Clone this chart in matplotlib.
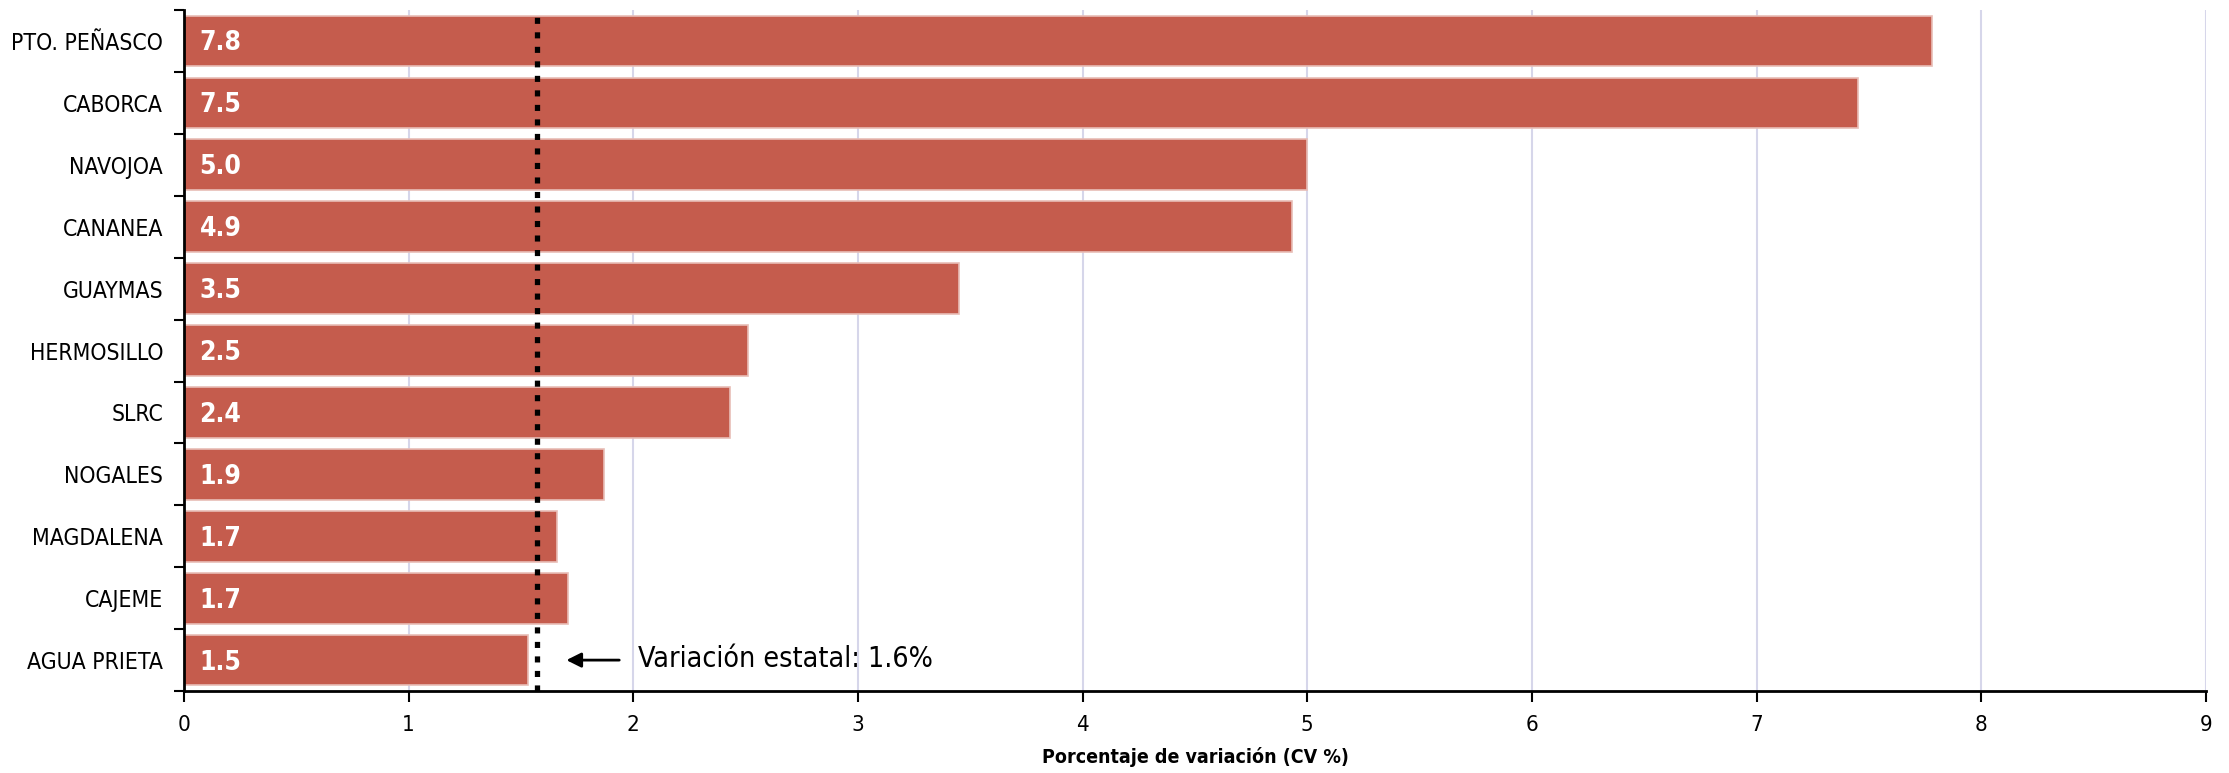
"""Horizontal bar chart: coefficient of variation by municipality (Sonora)."""

import matplotlib

matplotlib.use("Agg")
import matplotlib.pyplot as plt
import numpy as np

plt.rcParams["font.family"] = ["DejaVu Sans"]
plt.rcParams["font.stretch"] = "condensed"

municipios = [
    "PTO. PEÑASCO", "CABORCA", "NAVOJOA", "CANANEA", "GUAYMAS", "HERMOSILLO",
    "SLRC", "NOGALES", "MAGDALENA", "CAJEME", "AGUA PRIETA",
]
cv = [7.78, 7.45, 5.0, 4.93, 3.45, 2.51, 2.43, 1.87, 1.66, 1.71, 1.53]
cv_labels = ["7.8", "7.5", "5.0", "4.9", "3.5", "2.5", "2.4", "1.9", "1.7", "1.7", "1.5"]
estatal = 1.57
estatal_label = "Variación estatal: 1.6%"
x_ticks = list(range(0, 10))

BAR_COLOR = "#c55c4d"
GRID_COLOR = "#d6d6ea"

fig = plt.figure(figsize=(22.29, 7.73), dpi=100)
ax = fig.add_axes([0.0825, 0.106, 0.9072, 0.881])

y = np.arange(len(municipios))
ax.barh(y, cv, height=0.82, color=BAR_COLOR, edgecolor="#e8bdb6", linewidth=1.2, zorder=2)

for yi, label in zip(y, cv_labels):
    ax.text(0.07, yi + 0.04, label, ha="left", va="center", color="white",
            fontsize=19, fontweight="bold", zorder=4)

ax.axvline(estatal, color="black", linewidth=3.8, dashes=(1.15, 1.6), zorder=3)
ax.annotate("", xy=(1.69, y[-1]), xytext=(1.95, y[-1]),
            arrowprops=dict(arrowstyle="-|>", color="black", lw=2, mutation_scale=22),
            zorder=4)
ax.text(2.02, y[-1] - 0.02, estatal_label, ha="left", va="center",
        fontsize=20.5, color="black")

ax.set_xlim(0, 9)
ax.set_ylim(len(municipios) - 0.5, -0.5)
ax.set_xticks(x_ticks)
ax.set_xticklabels([str(t) for t in x_ticks], fontsize=16)
ax.set_yticks(y)
ax.set_yticklabels(municipios, fontsize=16.5)
ax.tick_params(axis="y", length=0, pad=15)
ax.set_yticks(np.arange(-0.5, len(municipios), 1.0), minor=True)
ax.tick_params(axis="y", which="minor", length=7, width=1.5)
ax.tick_params(axis="x", length=8, width=1.5, pad=9)

ax.grid(axis="x", color=GRID_COLOR, linewidth=1.5, zorder=0)
ax.set_axisbelow(True)
for side in ("top", "right"):
    ax.spines[side].set_visible(False)
for side in ("left", "bottom"):
    ax.spines[side].set_linewidth(2)

ax.set_xlabel("Porcentaje de variación (CV %)", fontsize=14, fontweight="bold", labelpad=9)

fig.savefig("out.png", dpi=100)
plt.close(fig)
